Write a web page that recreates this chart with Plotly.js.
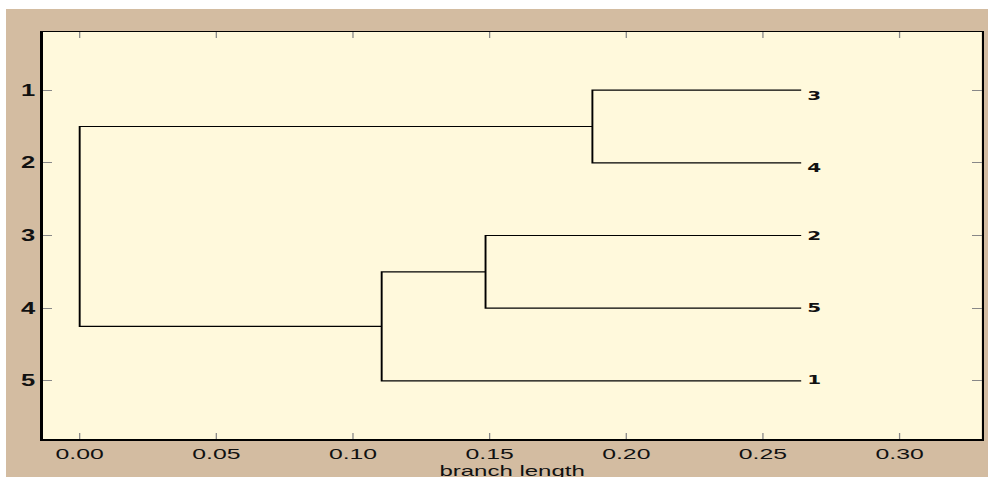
<!DOCTYPE html>
<html>
<head>
<meta charset="utf-8">
<script src="https://cdn.plot.ly/plotly-3.0.1.min.js"></script>
<style>
html,body{margin:0;padding:0;background:#ffffff;width:988px;height:477px;overflow:hidden;}
#wrap{position:absolute;left:6px;top:9px;width:982px;height:468px;overflow:hidden;background:#d3bca1;}
#chart{position:absolute;left:0;top:0;width:614px;height:468px;transform:scaleX(1.5993);transform-origin:0 0;}
</style>
</head>
<body>
<div id="wrap"><div id="chart"></div></div>
<script>
// Leaves, top to bottom (y positions 1..5)
const leafLabels = ['3', '4', '2', '5', '1'];
const leafPositions = [1, 2, 3, 4, 5];
const leafLength = 0.264;

// Internal nodes: branch height (x) and two children.
// children refer to 'L<i>' (leaf index) or 'N<i>' (node index)
const nodeNames = ['A', 'B', 'C', 'root'];
const nodeHeights = [0.1876, 0.1485, 0.1105, 0.0];
const nodeLeftChild = ['L0', 'L2', 'N1', 'N0'];
const nodeRightChild = ['L1', 'L3', 'L4', 'N2'];

const xTicks = [0.00, 0.05, 0.10, 0.15, 0.20, 0.25, 0.30];
const xTickText = ['0.00', '0.05', '0.10', '0.15', '0.20', '0.25', '0.30'];
const yTicks = [1, 2, 3, 4, 5];
const yTickText = ['1', '2', '3', '4', '5'];
const xTitle = 'branch length';

const nodePos = [];
function pos(ref) {
  const i = parseInt(ref.slice(1));
  if (ref[0] === 'L') return {x: leafLength, y: leafPositions[i]};
  return nodePos[i];
}
for (let i = 0; i < nodeHeights.length; i++) {
  const a = pos(nodeLeftChild[i]), b = pos(nodeRightChild[i]);
  nodePos[i] = {x: nodeHeights[i], y: (a.y + b.y) / 2};
}
const lx = [], ly = [];
for (let i = 0; i < nodeHeights.length; i++) {
  const a = pos(nodeLeftChild[i]), b = pos(nodeRightChild[i]);
  const h = nodeHeights[i];
  lx.push(a.x, h, h, b.x, null);
  ly.push(a.y, a.y, b.y, b.y, null);
}

const labelYShift = [-5, -5, 0, 1, 1];
const annotations = leafLabels.map((s, i) => ({
  x: leafLength, y: leafPositions[i], xref: 'x', yref: 'y',
  text: '<b>' + s + '</b>', showarrow: false,
  xanchor: 'left', yanchor: 'middle', xshift: 2, yshift: labelYShift[i],
  font: {family: 'DejaVu Sans', size: 12.5, color: '#111111'}
}));
annotations.push({
  x: 0.5, y: 0, xref: 'paper', yref: 'paper', text: xTitle, showarrow: false,
  xanchor: 'center', yanchor: 'middle', yshift: -31,
  font: {family: 'Liberation Sans', size: 15, color: '#111111'}
});

const traces = [
  {x: lx, y: ly, mode: 'lines', type: 'scatter', line: {color: '#000000', width: 1.2}, hoverinfo: 'skip', showlegend: false}
];

const layout = {
  width: 614, height: 468,
  paper_bgcolor: '#d3bca1',
  plot_bgcolor: '#fff9dc',
  margin: {l: 22.5, r: 4.4, t: 23, b: 38},
  showlegend: false,
  annotations: annotations,
  xaxis: {
    range: [-0.0135, 0.330],
    tickvals: xTicks, ticktext: xTickText,
    ticks: 'inside', ticklen: 6, tickcolor: '#888888', tickwidth: 0.8,
    showline: true, linecolor: '#000000', linewidth: 1.5, mirror: 'ticks',
    showgrid: false, zeroline: false,
    tickfont: {family: 'Liberation Sans', size: 15.5, color: '#111111'}
  },
  yaxis: {
    range: [5.8, 0.2],
    tickvals: yTicks, ticktext: yTickText,
    ticks: 'inside', ticklen: 6, tickcolor: '#888888', tickwidth: 1,
    showline: true, linecolor: '#000000', linewidth: 1.5, mirror: 'ticks',
    showgrid: false, zeroline: false,
    tickfont: {family: 'Liberation Sans', size: 16, color: '#111111', weight: 'bold'}
  }
};

Plotly.newPlot('chart', traces, layout, {displayModeBar: false, staticPlot: true});
</script>
</body>
</html>
